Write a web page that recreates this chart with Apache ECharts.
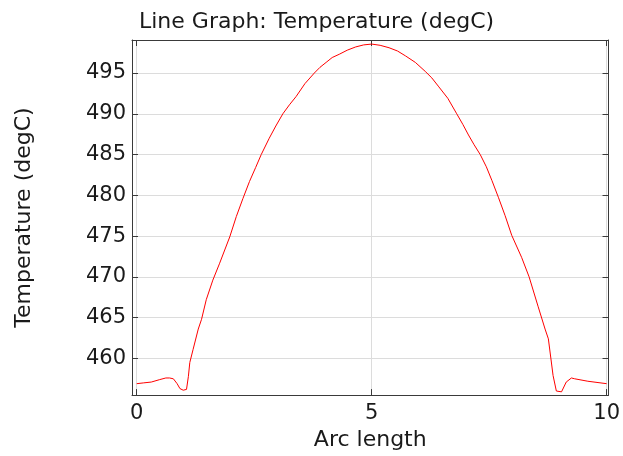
<!DOCTYPE html>
<html>
<head>
<meta charset="utf-8">
<script src="https://cdn.jsdelivr.net/npm/echarts@6/dist/echarts.min.js"></script>
<style>
html,body{margin:0;padding:0;background:#fff;}
#chart{width:623px;height:456px;}
</style>
</head>
<body>
<div id="chart"></div>
<script>
const arcLength = [0.00,0.15,0.31,0.49,0.62,0.70,0.78,0.86,0.92,0.99,1.06,1.10,1.13,1.20,1.31,1.38,1.48,1.62,1.76,1.98,2.12,2.26,2.40,2.53,2.65,2.82,2.96,3.11,3.25,3.39,3.58,3.78,3.90,4.03,4.16,4.31,4.48,4.66,4.83,5.00,5.18,5.37,5.55,5.72,5.93,6.14,6.28,6.43,6.62,6.81,6.94,7.06,7.18,7.31,7.44,7.56,7.70,7.84,7.98,8.19,8.35,8.54,8.69,8.76,8.86,8.93,9.04,9.14,9.25,9.32,9.60,10.00];
const temperature = [456.9,457.0,457.1,457.4,457.6,457.6,457.5,456.9,456.3,456.1,456.2,457.8,459.5,461.1,463.6,464.8,467.2,469.6,471.6,474.9,477.4,479.6,481.7,483.4,485.0,487.0,488.5,490.0,491.1,492.1,493.7,495.0,495.7,496.3,496.9,497.3,497.8,498.2,498.45,498.55,498.4,498.1,497.7,497.1,496.3,495.2,494.4,493.3,491.9,490.0,488.7,487.4,486.2,485.0,483.5,481.8,479.7,477.5,475.1,472.4,470.0,466.4,463.6,462.4,457.9,456.0,455.9,457.1,457.6,457.5,457.2,456.9];
const xTicks = [0, 5, 10];
const yTicks = [460, 465, 470, 475, 480, 485, 490, 495];

const FONT = "'DejaVu Sans', sans-serif";
const axisColor = '#3a3a3a';
const gridColor = '#dcdcdc';
const xMin = -0.1, xMax = 10.04, yMin = 455.5, yMax = 499.05;

const chart = echarts.init(document.getElementById('chart'), null, {renderer: 'canvas'});
chart.setOption({
  animation: false,
  backgroundColor: '#fff',
  title: {
    text: 'Line Graph: Temperature (degC)',
    left: 134, top: 6,
    textStyle: {fontFamily: FONT, fontSize: 22, fontWeight: 'normal', color: '#1a1a1a'}
  },
  grid: {left: 132, right: 12, top: 40, bottom: 56, containLabel: false},
  xAxis: [{
    type: 'value', min: xMin, max: xMax, position: 'bottom',
    name: 'Arc length', nameLocation: 'middle', nameGap: 32,
    nameTextStyle: {fontFamily: FONT, fontSize: 22, color: '#1a1a1a'},
    axisLine: {show: true, lineStyle: {color: axisColor, width: 1}},
    axisTick: {show: true, inside: true, length: 6, customValues: xTicks, lineStyle: {color: axisColor}},
    axisLabel: {show: true, customValues: xTicks, margin: 8, fontFamily: FONT, fontSize: 21, color: '#1a1a1a'},
    splitLine: {show: true, lineStyle: {color: gridColor, width: 1}}
  }, {
    type: 'value', min: xMin, max: xMax, position: 'top',
    axisLine: {show: true, onZero: false, lineStyle: {color: axisColor, width: 1}},
    axisTick: {show: true, inside: true, length: 6, customValues: xTicks, lineStyle: {color: axisColor}},
    axisLabel: {show: false},
    splitLine: {show: false}
  }],
  yAxis: [{
    type: 'value', min: yMin, max: yMax, position: 'left',
    name: 'Temperature (degC)', nameLocation: 'middle', nameGap: 97, nameRotate: 90,
    nameTextStyle: {fontFamily: FONT, fontSize: 22, color: '#1a1a1a'},
    axisLine: {show: true, onZero: false, lineStyle: {color: axisColor, width: 1}},
    axisTick: {show: true, inside: true, length: 6, customValues: yTicks, lineStyle: {color: axisColor}},
    axisLabel: {show: true, customValues: yTicks, margin: 6, fontFamily: FONT, fontSize: 21, color: '#1a1a1a'},
    splitLine: {show: true, lineStyle: {color: gridColor, width: 1}}
  }, {
    type: 'value', min: yMin, max: yMax, position: 'right',
    axisLine: {show: true, onZero: false, lineStyle: {color: axisColor, width: 1}},
    axisTick: {show: true, inside: true, length: 6, customValues: yTicks, lineStyle: {color: axisColor}},
    axisLabel: {show: false},
    splitLine: {show: false}
  }],
  series: [{
    type: 'line',
    xAxisIndex: 0, yAxisIndex: 0,
    data: arcLength.map((x, i) => [x, temperature[i]]),
    showSymbol: false, symbol: 'none',
    lineStyle: {color: '#ff0000', width: 1},
    itemStyle: {color: '#ff0000'}
  }]
});
</script>
</body>
</html>
